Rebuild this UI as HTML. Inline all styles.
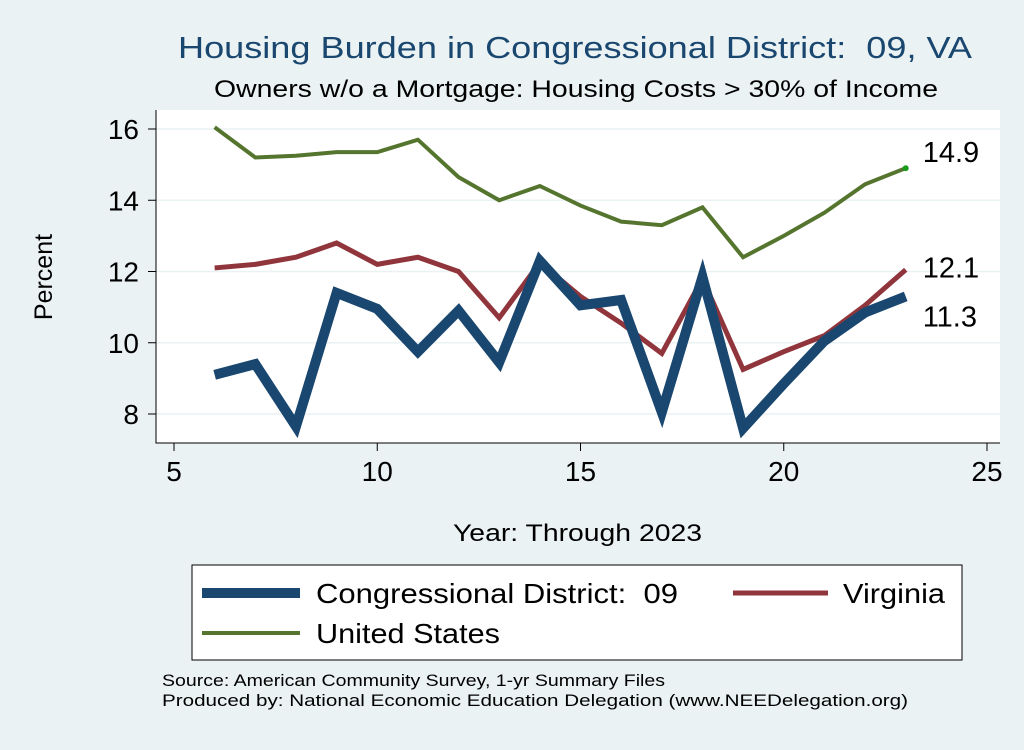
<!DOCTYPE html>
<html><head><meta charset="utf-8"><style>
body{margin:0;width:1024px;height:745px;background:#eaf2f3;font-family:"Liberation Sans",sans-serif;overflow:hidden}
text{white-space:pre}
</style></head><body>
<svg id="c" width="1024" height="745" xmlns="http://www.w3.org/2000/svg">
<rect x="0" y="0" width="1024" height="745" fill="#eaf2f3"/>
<rect x="156" y="110" width="844" height="333" fill="#fff" stroke="none"/>
<text x="178" y="58" font-size="31" fill="#1a476f" textLength="794" lengthAdjust="spacingAndGlyphs">Housing Burden in Congressional District:  09, VA</text>
<text x="214" y="97" font-size="24" fill="#000" textLength="724" lengthAdjust="spacingAndGlyphs">Owners w/o a Mortgage: Housing Costs &gt; 30% of Income</text>
<g id="grid"></g><g id="axes"></g><g id="series"></g>
<text x="52" y="277" font-size="25" text-anchor="middle" transform="rotate(-90 52 277)">Percent</text>
<text x="453" y="541" font-size="24" textLength="249" lengthAdjust="spacingAndGlyphs">Year: Through 2023</text>
<rect x="192" y="565" width="770" height="95" fill="#fff" stroke="#000" stroke-width="1"/>
<g><line x1="202" y1="593" x2="300" y2="593" stroke="#1a476f" stroke-width="10"/><text x="316" y="603" font-size="28" textLength="362" lengthAdjust="spacingAndGlyphs">Congressional District:  09</text></g>
<g><line x1="733" y1="593" x2="828" y2="593" stroke="#90353b" stroke-width="5"/><text x="843" y="603" font-size="28" textLength="102" lengthAdjust="spacingAndGlyphs">Virginia</text></g>
<g><line x1="202" y1="633" x2="300" y2="633" stroke="#55752f" stroke-width="4"/><text x="316" y="643" font-size="28" textLength="184" lengthAdjust="spacingAndGlyphs">United States</text></g>
<text x="162" y="686" font-size="17" textLength="503" lengthAdjust="spacingAndGlyphs">Source: American Community Survey, 1-yr Summary Files</text>
<text x="162" y="706" font-size="17" textLength="746" lengthAdjust="spacingAndGlyphs">Produced by: National Economic Education Delegation (www.NEEDelegation.org)</text>
</svg>
<script>
const years=[6,7,8,9,10,11,12,13,14,15,16,17,18,19,20,21,22,23];
const usVals=[16.05,15.2,15.25,15.35,15.35,15.7,14.65,14.0,14.4,13.85,13.4,13.3,13.8,12.4,13.0,13.65,14.45,14.9];
const vaVals=[12.1,12.2,12.4,12.8,12.2,12.4,12.0,10.7,12.25,11.3,10.55,9.7,11.8,9.25,9.75,10.2,11.05,12.05];
const cdVals=[9.1,9.4,7.65,11.4,10.95,9.75,10.9,9.45,12.3,11.05,11.2,8.05,11.85,7.6,8.85,10.05,10.85,11.3];
const xTicks=[5,10,15,20,25];
const yTicks=[8,10,12,14,16];
const NS="http://www.w3.org/2000/svg";
const X=v=>174+(v-5)*(987-174)/20;
const Y=v=>414-(v-8)*(414-129)/8;
function mk(t,a,p){const e=document.createElementNS(NS,t);for(const k in a)e.setAttribute(k,a[k]);p.appendChild(e);return e;}
const grid=document.getElementById('grid'),axes=document.getElementById('axes'),ser=document.getElementById('series');
yTicks.forEach(v=>{
 const g=mk('line',{x1:156,x2:1000,y1:Y(v),y2:Y(v),stroke:'#eaf2f3','stroke-width':1.5},grid);
 
 
 mk('line',{x1:148,x2:156,y1:Y(v),y2:Y(v),stroke:'#000'},axes);
 const t=mk('text',{x:139,y:Y(v)+10,'font-size':28,'text-anchor':'end'},axes);t.textContent=v;
 
 
});
xTicks.forEach(v=>{
 mk('line',{x1:X(v),x2:X(v),y1:443,y2:451,stroke:'#000'},axes);
 const t=mk('text',{x:X(v),y:481,'font-size':28,'text-anchor':'middle'},axes);t.textContent=v;
 
 
});
const ax=mk('path',{d:'M156 110 V443 H1000',fill:'none',stroke:'#000'},axes);


function line(vals,col,w,name){
 const p=mk('polyline',{points:vals.map((v,i)=>X(years[i])+','+Y(v)).join(' '),fill:'none',stroke:col,'stroke-width':w,'stroke-linejoin':'miter'},ser);
 
 
}
line(usVals,'#55752f',4,'line-united-states');
line(vaVals,'#90353b',5,'line-virginia');
line(cdVals,'#1a476f',10,'line-district');
const d=mk('circle',{cx:X(23),cy:Y(usVals[17]),r:3,fill:'#1a9a1a'},ser);


[[usVals,-6,'label-us'],[vaVals,8,'label-va'],[cdVals,30,'label-cd']].forEach(([a,dy,n])=>{
 const t=mk('text',{x:X(23)+17,y:Y(a[17])+dy,'font-size':29},ser);t.textContent=a[17].toFixed(1);
 
 
});
</script>
</body></html>
